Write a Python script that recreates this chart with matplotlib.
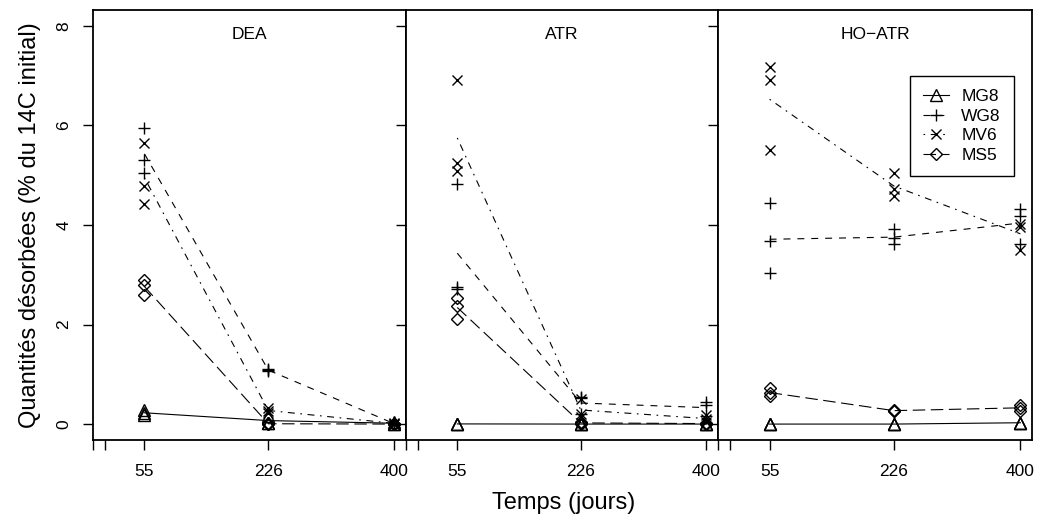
import matplotlib
matplotlib.use("Agg")
import matplotlib.pyplot as plt
import numpy as np

plt.rcParams['font.family'] = ['Liberation Sans', 'DejaVu Sans']
plt.rcParams['lines.scale_dashes'] = False

# sampling days
temps = [55, 226, 400]
panels = ["DEA", "ATR", "HO\u2212ATR"]
series = ["MG8", "WG8", "MV6", "MS5"]

# replicate values (% of initial 14C), one row per day
dea_mg8 = [[0.28, 0.18, 0.22], [0.16, 0.03, 0.02], [0.05, 0.00, 0.00]]
dea_wg8 = [[5.95, 5.30, 5.04], [1.10, 1.08, 1.07], [0.02, 0.00, 0.00]]
dea_mv6 = [[5.65, 4.78, 4.42], [0.33, 0.27, 0.22], [0.03, 0.01, 0.00]]
dea_ms5 = [[2.90, 2.79, 2.60], [0.02, 0.00, 0.00], [0.00, 0.00, 0.00]]

atr_mg8 = [[0.01, 0.00, 0.00], [0.00, 0.00, 0.00], [0.00, 0.00, 0.00]]
atr_wg8 = [[4.82, 2.76, 2.72], [0.55, 0.52, 0.20], [0.45, 0.38, 0.16]]
atr_mv6 = [[6.92, 5.25, 5.08], [0.50, 0.20, 0.15], [0.18, 0.10, 0.05]]
atr_ms5 = [[2.53, 2.38, 2.12], [0.05, 0.02, 0.00], [0.03, 0.00, 0.00]]

hoatr_mg8 = [[0.00, 0.00, 0.00], [0.00, 0.00, 0.00], [0.03, 0.03, 0.02]]
hoatr_wg8 = [[4.44, 3.67, 3.03], [3.92, 3.74, 3.61], [4.32, 4.19, 3.61]]
hoatr_mv6 = [[7.17, 6.91, 5.50], [5.04, 4.72, 4.59], [4.02, 3.95, 3.50]]
hoatr_ms5 = [[0.72, 0.62, 0.56], [0.28, 0.27, 0.26], [0.38, 0.33, 0.27]]

donnees = [
    [dea_mg8, dea_wg8, dea_mv6, dea_ms5],
    [atr_mg8, atr_wg8, atr_mv6, atr_ms5],
    [hoatr_mg8, hoatr_wg8, hoatr_mv6, hoatr_ms5],
]

# style per series (R pch 2,3,4,5 and lty 1,2,4,5)
marqueurs = ['^', '+', 'x', 'D']
tailles = [8.5, 9, 7.5, 6.2]
traits = ['-', (0, (5, 5)), (0, (1.2, 4, 5, 4)), (0, (9, 4))]

fig = plt.figure(figsize=(10.37, 5.23), dpi=100)
W, H = 1037.0, 523.0
bords = [93, 406, 718, 1032]
haut, bas = 10, 440

axes = []
for i in range(3):
    ax = fig.add_axes([bords[i] / W, 1 - bas / H, (bords[i + 1] - bords[i]) / W, (bas - haut) / H])
    axes.append(ax)
    for j in range(4):
        vals = np.array(donnees[i][j])
        moy = vals.mean(axis=1)
        ax.plot(temps, moy, color='black', lw=0.8, linestyle=traits[j])
        for k in range(3):
            ax.plot([temps[k]] * vals.shape[1], vals[k], linestyle='none', marker=marqueurs[j],
                    markersize=tailles[j], markerfacecolor='none', markeredgecolor='black',
                    markeredgewidth=1.0, color='black')
    ax.set_xlim(-16, 416)
    ax.set_ylim(-0.32, 8.32)
    ax.set_xticks([-16, 0] + temps)
    ax.set_xticklabels(['', ''] + [str(t) for t in temps], fontsize=12.5)
    ax.set_yticks([0, 2, 4, 6, 8])
    ax.tick_params(axis='x', direction='out', length=7.5, width=1.0, pad=10)
    ax.tick_params(axis='y', direction='out', length=7.5, width=1.0, pad=8)
    if i == 0:
        ax.set_yticklabels(['0', '2', '4', '6', '8'], fontsize=12.5, rotation=90, va='center')
    else:
        ax.set_yticklabels([])
    for s in ax.spines.values():
        s.set_linewidth(1.3)
    ax.text(0.5, 0.96, panels[i], transform=ax.transAxes, ha='center', va='top', fontsize=12.5)

# legend in the last panel
poignees = []
for j in range(4):
    h, = axes[2].plot([], [], color='black', lw=0.8, linestyle=traits[j], marker=marqueurs[j],
                      markersize=tailles[j], markerfacecolor='none', markeredgecolor='black',
                      markeredgewidth=1.0)
    poignees.append(h)
leg = axes[2].legend(poignees, series, loc='upper left', bbox_to_anchor=(910 / W, 1 - 76 / H),
                     bbox_transform=fig.transFigure, borderaxespad=0, fontsize=12.5,
                     handlelength=1.5, handletextpad=0.7, labelspacing=0.25, borderpad=0.75,
                     fancybox=False, framealpha=1, edgecolor='black')
leg.get_frame().set_linewidth(1.0)

fig.text(564 / W, 1 - 503 / H, "Temps (jours)", ha='center', va='center', fontsize=17)
fig.text(30 / W, 1 - 225 / H, "Quantités désorbées (% du 14C initial)", ha='center', va='center',
         rotation=90, fontsize=17)

plt.savefig("out.png", dpi=100)
